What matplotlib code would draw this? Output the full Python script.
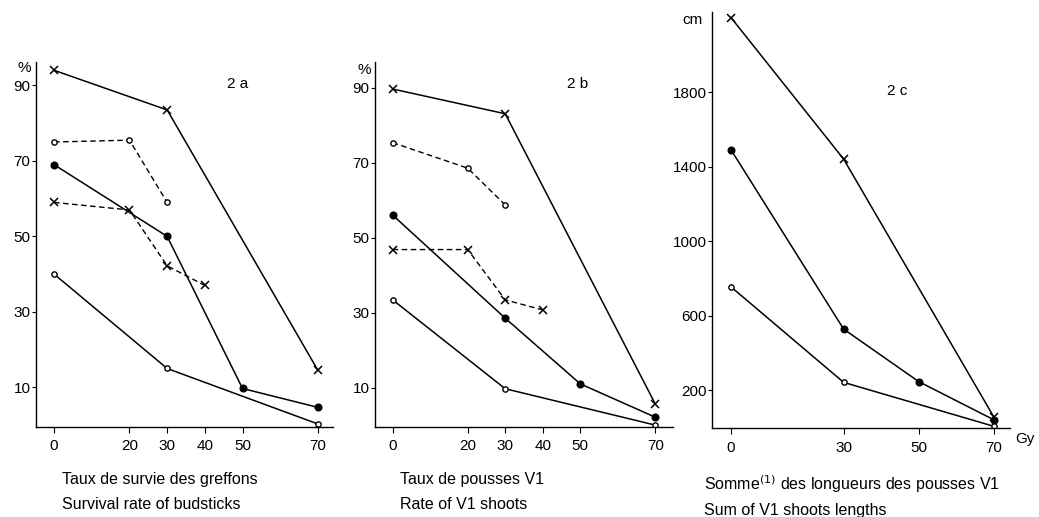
import matplotlib
matplotlib.use("Agg")
import matplotlib.pyplot as plt

plt.rcParams["font.family"] = ["Liberation Sans Narrow", "Liberation Sans", "DejaVu Sans"]

# ── 2a : taux de survie des greffons (%) ──
a_x_cross_solid = [0, 30, 70]
a_y_cross_solid = [94, 83.5, 14.5]
a_x_open_dash = [0, 20, 30]
a_y_open_dash = [75, 75.5, 59]
a_x_dot_solid = [0, 30, 50, 70]
a_y_dot_solid = [69, 50, 9.7, 4.7]
a_x_cross_dash = [0, 20, 30, 40]
a_y_cross_dash = [59, 57, 42.2, 37]
a_x_open_solid = [0, 30, 70]
a_y_open_solid = [40, 15, 0.3]

# ── 2b : taux de pousses V1 (%) ──
b_x_cross_solid = [0, 30, 70]
b_y_cross_solid = [89.6, 83, 5.6]
b_x_open_dash = [0, 20, 30]
b_y_open_dash = [75.3, 68.5, 58.7]
b_x_dot_solid = [0, 30, 50, 70]
b_y_dot_solid = [56, 28.5, 11, 2.1]
b_x_cross_dash = [0, 20, 30, 40]
b_y_cross_dash = [46.8, 46.8, 33.4, 30.7]
b_x_open_solid = [0, 30, 70]
b_y_open_solid = [33.4, 9.7, 0]

# ── 2c : somme des longueurs des pousses V1 (cm) ──
c_x_cross = [0, 30, 70]
c_y_cross = [2200, 1440, 55]
c_x_dot = [0, 30, 50, 70]
c_y_dot = [1490, 527, 245, 40]
c_x_open = [0, 30, 70]
c_y_open = [754, 241, 5]

pct_ticks = [10, 30, 50, 70, 90]
dose_ticks_ab = [0, 20, 30, 40, 50, 70]
cm_ticks = [200, 600, 1000, 1400, 1800]
dose_ticks_c = [0, 30, 50, 70]

W, H = 1039, 517
fig = plt.figure(figsize=(W / 100, H / 100), dpi=100)


def make_ax(left, right, top, bottom):
    return fig.add_axes([left / W, 1 - bottom / H, (right - left) / W, (bottom - top) / H])


def style(ax):
    for s in ("top", "right"):
        ax.spines[s].set_visible(False)
    for s in ("left", "bottom"):
        ax.spines[s].set_linewidth(1.0)
    ax.tick_params(axis="y", direction="out", length=3, width=0.8, pad=1, labelsize=11)
    ax.tick_params(axis="x", direction="out", length=4, width=0.8, pad=5, labelsize=11)


SOLID = dict(color="black", lw=1.1)
DASH = dict(color="black", lw=1.0, dashes=(4, 2.5))
CROSS = dict(marker="x", ms=5.5, mew=1.1, mec="black")
OPEN = dict(marker="o", ms=3.8, mew=1.0, mec="black", mfc="white")
DOT = dict(marker="o", ms=4.8, mfc="black", mec="black")


def pct_panel(ax, d, label):
    ax.plot(d[0], d[1], **SOLID, **CROSS)
    ax.plot(d[2], d[3], **DASH, **OPEN)
    ax.plot(d[4], d[5], **SOLID, **DOT)
    ax.plot(d[6], d[7], **DASH, **CROSS)
    ax.plot(d[8], d[9], **SOLID, **OPEN)
    ax.set_xticks(dose_ticks_ab)
    ax.set_yticks(pct_ticks)
    style(ax)
    ax.text(0.68, 0.93, label, transform=ax.transAxes, fontsize=11, ha="center")


# panel a
ax1 = make_ax(36, 333, 62, 427)
ax1.set_xlim(-4.8, 74)
ax1.set_ylim(-0.5, 96.2)
pct_panel(ax1, [a_x_cross_solid, a_y_cross_solid, a_x_open_dash, a_y_open_dash,
                a_x_dot_solid, a_y_dot_solid, a_x_cross_dash, a_y_cross_dash,
                a_x_open_solid, a_y_open_solid], "2 a")

# panel b
ax2 = make_ax(375, 673, 62, 427)
ax2.set_xlim(-4.7, 74.7)
ax2.set_ylim(-0.5, 96.8)
pct_panel(ax2, [b_x_cross_solid, b_y_cross_solid, b_x_open_dash, b_y_open_dash,
                b_x_dot_solid, b_y_dot_solid, b_x_cross_dash, b_y_cross_dash,
                b_x_open_solid, b_y_open_solid], "2 b")

# panel c
ax3 = make_ax(712, 1010, 12, 428)
ax3.set_xlim(-5.06, 74.3)
ax3.set_ylim(-4, 2230)
ax3.plot(c_x_cross, c_y_cross, **SOLID, **CROSS)
ax3.plot(c_x_dot, c_y_dot, **SOLID, **DOT)
ax3.plot(c_x_open, c_y_open, **SOLID, **OPEN)
ax3.set_xticks(dose_ticks_c)
ax3.set_yticks(cm_ticks)
style(ax3)
ax3.text(0.62, 0.8, "2 c", transform=ax3.transAxes, fontsize=11, ha="center")

# unit labels
fig.text(17 / W, 1 - 72 / H, "%", fontsize=11)
fig.text(358 / W, 1 - 74 / H, "%", fontsize=11)
fig.text(682 / W, 1 - 24 / H, "cm", fontsize=11)
fig.text(1015 / W, 1 - 443 / H, "Gy", fontsize=11)

# captions
cap = dict(fontsize=11.5)
fig.text(62 / W, 1 - 484 / H, "Taux de survie des greffons", **cap)
fig.text(62 / W, 1 - 509 / H, "Survival rate of budsticks", **cap)
fig.text(400 / W, 1 - 484 / H, "Taux de pousses V1", **cap)
fig.text(400 / W, 1 - 509 / H, "Rate of V1 shoots", **cap)
fig.text(704 / W, 1 - 490 / H, "Somme$^{(1)}$ des longueurs des pousses V1", **cap)
fig.text(704 / W, 1 - 515 / H, "Sum of V1 shoots lengths", **cap)

fig.savefig("out.png", dpi=100)
